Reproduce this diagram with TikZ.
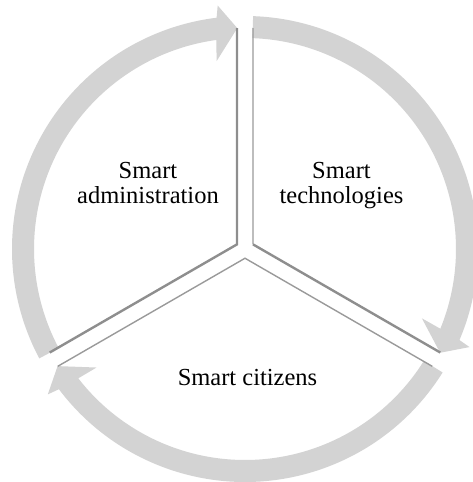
\documentclass[tikz,border=0pt]{standalone}
\usepackage{fontspec}
\setmainfont{Liberation Serif}
\definecolor{bandgray}{HTML}{D3D3D3}
\definecolor{linegray}{HTML}{9A9A9A}
\definecolor{darkline}{HTML}{8E8E8E}
\begin{document}
\begin{tikzpicture}[
  band/.style={fill=bandgray},
  thinedge/.style={draw=linegray, line width=1.4pt},
  thickedge/.style={draw=darkline, line width=2.4pt},
  txt/.style={font=\fontsize{24.5}{25}\selectfont, inner sep=0pt, align=center, text=black}
]
\useasboundingbox (-245pt,-233pt) rectangle (228pt,249pt);
% circular arrows (clockwise)
\foreach \s/\e in {208/92, 88/-28, -32/-148}{
  \fill[band] (\s:211pt) -- (\s:233pt)
    arc[start angle=\s, end angle={\e+5}, radius=233pt]
    -- ({\e+4.4}:245pt) -- (\e:221pt) -- ({\e+6.6}:190pt) -- ({\e+5.8}:211pt)
    arc[start angle={\e+5.8}, end angle=\s, radius=211pt] -- cycle;
}
% sector corners and edge ends
\coordinate (cL) at (150:9.24pt);
\coordinate (cR) at (30:9.24pt);
\coordinate (cB) at (270:9.24pt);
\coordinate (L1) at (92.07:221pt);
\coordinate (L2) at (207.93:221pt);
\coordinate (R1) at (87.93:221pt);
\coordinate (R2) at (-27.93:221pt);
\coordinate (B1) at (-32.07:221pt);
\coordinate (B2) at (-147.93:221pt);
\draw[thickedge] (L1) -- (cL) -- (L2);
\draw[thinedge] (R1) -- (cR);
\draw[thickedge] (cR) -- (R2);
\draw[thinedge] (B1) -- (cB) -- (B2);
% labels
\node[txt, anchor=north] (adm) at (-97pt, 87pt) {Smart\\administration};
\node[txt, anchor=north] (tech) at (96.5pt, 87pt) {Smart\\technologies};
\node[txt, anchor=base] (cit) at (2.5pt, -136pt) {Smart citizens};
\end{tikzpicture}
\end{document}
